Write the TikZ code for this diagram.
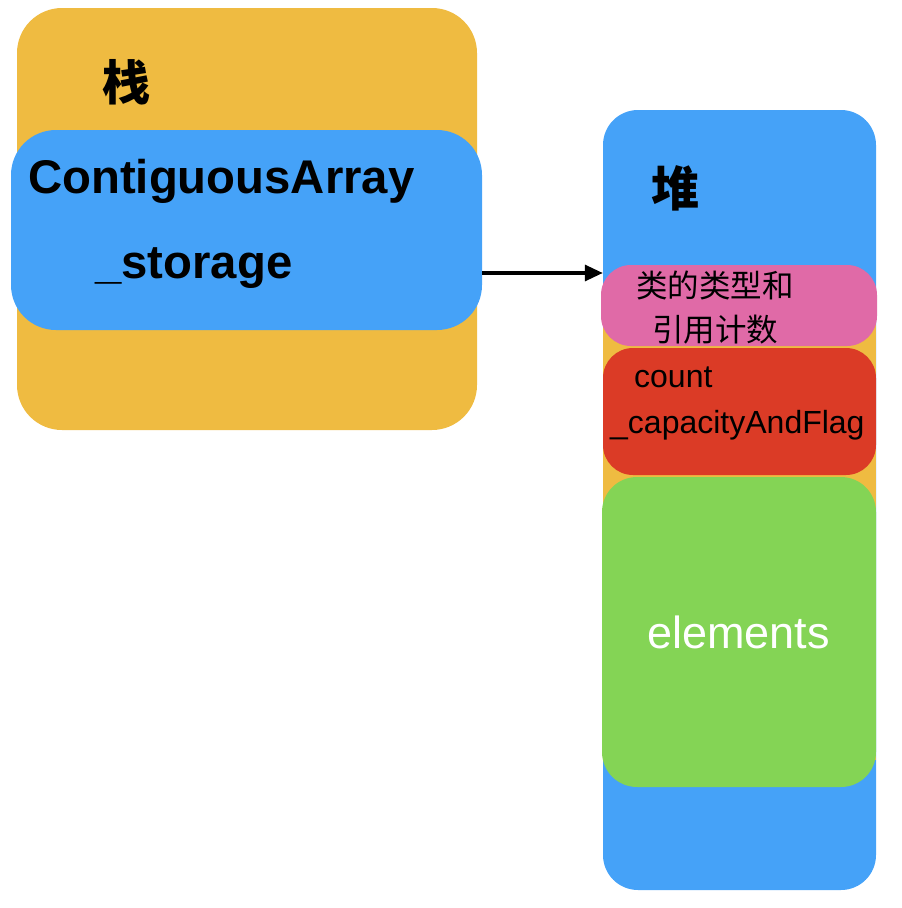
\documentclass[tikz,border=0pt]{standalone}
\usepackage{fontspec}
\setmainfont{Liberation Sans}
\newfontfamily\cjk{Noto Sans CJK SC}
\usetikzlibrary{arrows.meta}

\definecolor{stackorange}{HTML}{EFBB41}
\definecolor{memblue}{HTML}{45A2F8}
\definecolor{headpink}{HTML}{E06AA7}
\definecolor{countred}{HTML}{DB3B26}
\definecolor{elemgreen}{HTML}{84D455}

\begin{document}
\begin{tikzpicture}[x=1pt, y=-1pt,
    box/.style={draw=none, rectangle, inner sep=0pt},
    txt/.style={inner sep=0pt, anchor=base west}]
\useasboundingbox (0,0) rectangle (902,908);
% stack
\node[box, fill=stackorange, rounded corners=45pt, minimum width=460pt, minimum height=422pt] (stack) at (247,219) {};
\node[box, fill=memblue, rounded corners=45pt, minimum width=471pt, minimum height=200pt] (array) at (246.5,230) {};
\node[txt] (stacklbl) at (102,100) {\fontsize{48pt}{48pt}\selectfont\cjk\bfseries 栈};
\node[txt] (arrayname) at (28,193) {\fontsize{47.3pt}{47pt}\selectfont\bfseries ContiguousArray};
\node[txt] (storage) at (95,278) {\fontsize{47.3pt}{47pt}\selectfont\bfseries \_storage};
% heap
\node[box, fill=memblue, rounded corners=35pt, minimum width=273pt, minimum height=780pt] (heap) at (739.5,500) {};
\node[box, fill=stackorange, minimum width=273pt, minimum height=440pt] (strip) at (739.5,540) {};
\node[txt] (heaplbl) at (651,206) {\fontsize{48pt}{48pt}\selectfont\cjk\bfseries 堆};
\node[box, fill=headpink, rounded corners=30pt, minimum width=276pt, minimum height=81pt] (header) at (739,305.5) {};
\node[box, fill=countred, rounded corners=30pt, minimum width=273pt, minimum height=127pt] (counts) at (739.5,411.5) {};
\node[box, fill=elemgreen, rounded corners=35pt, minimum width=274pt, minimum height=310pt] (elems) at (739,632) {};
\node[txt] (typeA) at (636,297) {\fontsize{31.5pt}{31.5pt}\selectfont\cjk 类的类型和};
\node[txt] (typeB) at (652,341) {\fontsize{31.5pt}{31.5pt}\selectfont\cjk 引用计数};
\node[txt] (countlbl) at (634,387) {\fontsize{32pt}{32pt}\selectfont count};
\node[txt] (caplbl) at (610,433) {\fontsize{32pt}{32pt}\selectfont \_capacityAndFlag};
\node[txt, text=white] (elemlbl) at (647,648) {\fontsize{45pt}{45pt}\selectfont elements};
% pointer
\coordinate (tail) at (482,273);
\draw[line width=3.2pt, -{Triangle[length=18pt,width=16pt]}] (tail) -- (tail -| heap.west);
\end{tikzpicture}
\end{document}
